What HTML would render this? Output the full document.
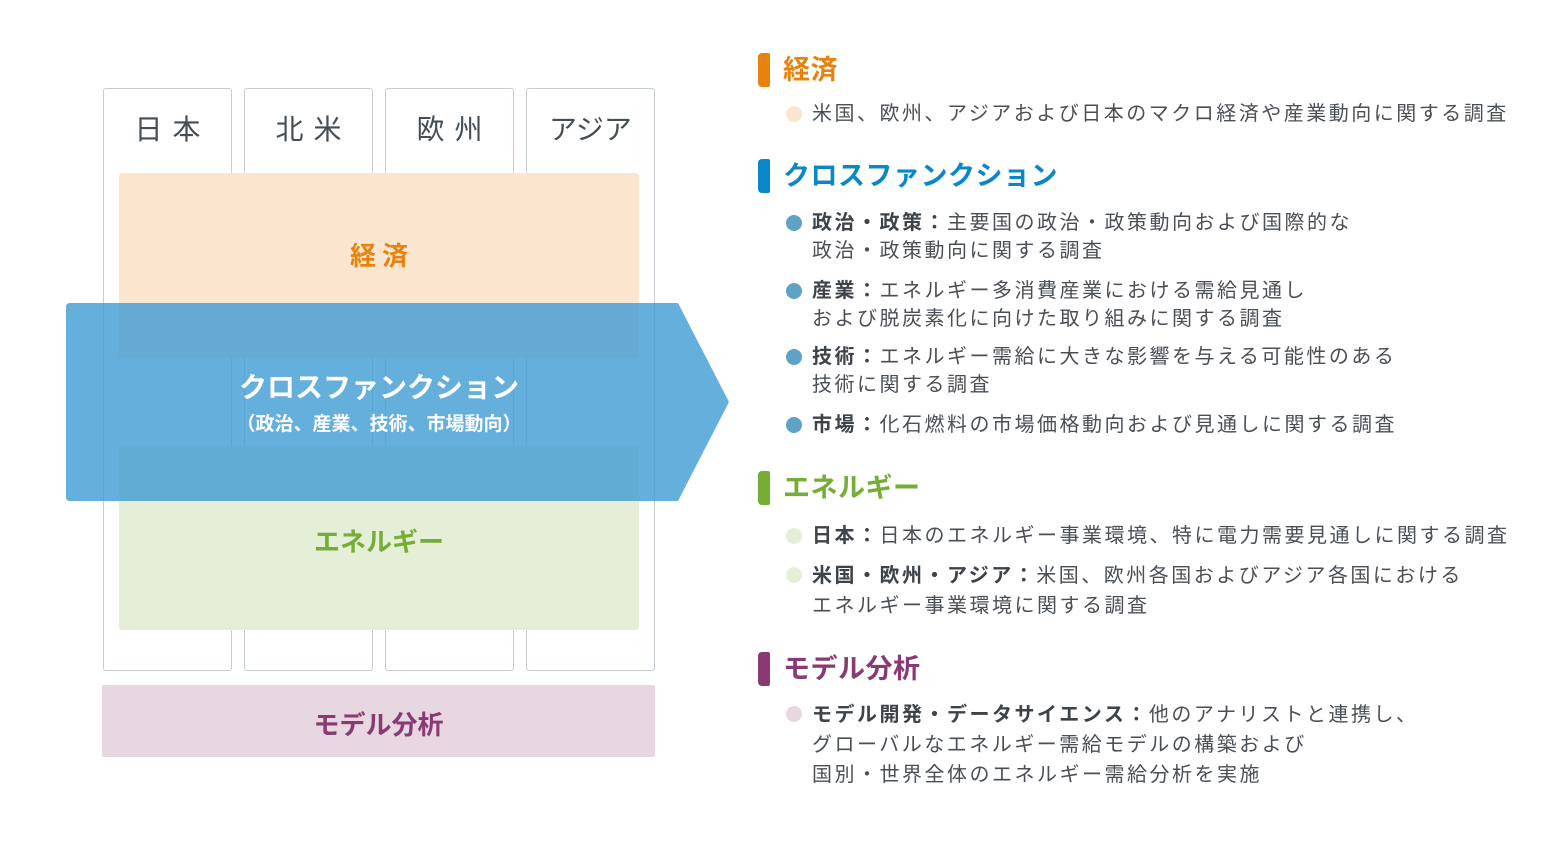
<!DOCTYPE html>
<html><head><meta charset="utf-8"><style>
body{margin:0;width:1562px;height:846px;background:#fff;position:relative;overflow:hidden;font-family:"Liberation Sans","Noto Sans CJK JP",sans-serif}
.a{position:absolute}
.col{position:absolute;top:88px;height:583px;width:129px;border:1px solid #c5ccd4;border-radius:3px;box-sizing:border-box;background:#fff}
.ch{position:absolute;top:108px;width:129px;text-align:center;font-size:28px;color:#454d55;letter-spacing:10px;text-indent:10px}
.h{position:absolute;left:783px;font-size:27px;font-weight:bold;line-height:36px;letter-spacing:0.5px}
.bar{position:absolute;left:758px;width:12px;height:34px;border-radius:4px 2px 2px 4px}
.t{position:absolute;left:812px;font-size:20px;color:#4a4f55;letter-spacing:2.5px;line-height:28px;white-space:nowrap}
.t b{color:#3d4349}
.d{position:absolute;left:786px;width:16px;height:16px;border-radius:50%}
</style></head><body>
<div class="col" style="left:103px"></div>
<div class="col" style="left:244px"></div>
<div class="col" style="left:385px"></div>
<div class="col" style="left:526px"></div>
<div class="ch" style="left:103px">日本</div>
<div class="ch" style="left:244px">北米</div>
<div class="ch" style="left:385px">欧州</div>
<div class="ch" style="left:526px;letter-spacing:0;text-indent:0">アジア</div>
<div class="a" style="left:119px;top:173px;width:520px;height:185px;background:#fae5cf;border-radius:3px"></div>
<div class="a" style="left:119px;top:446px;width:520px;height:184px;background:#e5efd7;border-radius:3px"></div>
<div class="a" style="left:119px;top:236px;width:520px;text-align:center;font-size:26px;font-weight:bold;color:#e7820e;letter-spacing:6px;text-indent:6px">経済</div>
<div class="a" style="left:119px;top:522px;width:520px;text-align:center;font-size:26px;font-weight:bold;color:#75ad35">エネルギー</div>
<svg class="a" style="left:0;top:0" width="760" height="846"><path d="M70 303 H678 L729 402 L678 501 H70 Q66 501 66 497 V307 Q66 303 70 303Z" fill="#3f9bd3" fill-opacity="0.8"/></svg>
<div class="a" style="left:66px;top:366px;width:626px;text-align:center;font-size:28px;font-weight:bold;color:#fff">クロスファンクション</div>
<div class="a" style="left:66px;top:409px;width:626px;text-align:center;font-size:19px;font-weight:bold;color:#fff">（政治、産業、技術、市場動向）</div>
<div class="a" style="left:102px;top:685px;width:553px;height:72px;background:#e6d7e1;border-radius:2px"></div>
<div class="a" style="left:102px;top:705px;width:553px;text-align:center;font-size:26px;font-weight:bold;color:#8a3a72">モデル分析</div>

<div class="bar" style="top:53px;background:#e7820e"></div><div class="h" style="top:52px;color:#e7820e">経済</div>
<div class="d" style="top:106px;background:#fae5cf"></div>
<div class="t" style="top:100px">米国、欧州、アジアおよび日本のマクロ経済や産業動向に関する調査</div>

<div class="bar" style="top:159px;background:#0a87c9"></div><div class="h" style="top:158px;color:#0a87c9">クロスファンクション</div>
<div class="d" style="top:215px;background:#5ea3c5"></div>
<div class="t" style="top:209px"><b>政治・政策：</b>主要国の政治・政策動向および国際的な<br>政治・政策動向に関する調査</div>
<div class="d" style="top:283px;background:#5ea3c5"></div>
<div class="t" style="top:277px"><b>産業：</b>エネルギー多消費産業における需給見通し<br>および脱炭素化に向けた取り組みに関する調査</div>
<div class="d" style="top:349px;background:#5ea3c5"></div>
<div class="t" style="top:343px"><b>技術：</b>エネルギー需給に大きな影響を与える可能性のある<br>技術に関する調査</div>
<div class="d" style="top:417px;background:#5ea3c5"></div>
<div class="t" style="top:411px"><b>市場：</b>化石燃料の市場価格動向および見通しに関する調査</div>

<div class="bar" style="top:471px;background:#75ad35"></div><div class="h" style="top:470px;color:#75ad35">エネルギー</div>
<div class="d" style="top:528px;background:#e5efd7"></div>
<div class="t" style="top:522px"><b>日本：</b>日本のエネルギー事業環境、特に電力需要見通しに関する調査</div>
<div class="d" style="top:567px;background:#e5efd7"></div>
<div class="t" style="top:561px;line-height:30px"><b>米国・欧州・アジア：</b>米国、欧州各国およびアジア各国における<br>エネルギー事業環境に関する調査</div>

<div class="bar" style="top:652px;background:#8a3a72"></div><div class="h" style="top:651px;color:#8a3a72">モデル分析</div>
<div class="d" style="top:706px;background:#e6d7e1"></div>
<div class="t" style="top:700px;line-height:30px"><b>モデル開発・データサイエンス：</b>他のアナリストと連携し、<br>グローバルなエネルギー需給モデルの構築および<br>国別・世界全体のエネルギー需給分析を実施</div>
</body></html>
